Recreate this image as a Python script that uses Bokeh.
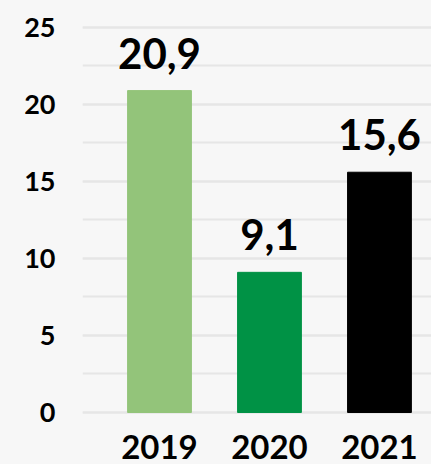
from bokeh.plotting import figure
from bokeh.models import Range1d, SingleIntervalTicker, FixedTicker, ColumnDataSource
from bokeh.core.properties import value
from bokeh.embed import file_html
from bokeh.resources import INLINE

years = ["2019", "2020", "2021"]
values = [20.9, 9.1, 15.6]
value_labels = ["20,9", "9,1", "15,6"]
colors = ["#93C47A", "#009245", "#000000"]

BG = "#f7f7f7"
FONT = "Lato"

idx = list(range(len(years)))
src = ColumnDataSource(dict(x=idx, top=values, lab=value_labels, color=colors))

p = figure(width=431, height=464, output_backend="svg", toolbar_location=None,
           x_range=Range1d(-0.7, 2.473), y_range=Range1d(-0.13, 26.75),
           min_border_left=82, min_border_right=0, min_border_top=0, min_border_bottom=50)
p.background_fill_color = BG
p.border_fill_color = BG
p.outline_line_color = None

p.vbar(x="x", top="top", width=0.58, bottom=0, color="color", source=src)
p.text(x="x", y="top", text="lab", source=src, text_align="center", text_baseline="bottom",
       y_offset=-22, text_font=value(FONT), text_font_style="bold", text_font_size="42px",
       text_color="#000000")

p.yaxis.ticker = SingleIntervalTicker(interval=5, num_minor_ticks=2)
p.xaxis.ticker = FixedTicker(ticks=idx)
p.xaxis.major_label_overrides = {i: y for i, y in zip(idx, years)}

for ax in (p.xaxis, p.yaxis):
    ax.axis_line_color = None
    ax.major_tick_line_color = None
    ax.minor_tick_line_color = None
    ax.major_label_text_font = FONT
    ax.major_label_text_font_style = "bold"
    ax.major_label_text_color = "#000000"

p.yaxis.major_label_text_font_size = "27px"
p.yaxis.major_label_standoff = 21
p.xaxis.major_label_text_font_size = "33px"
p.xaxis.major_label_standoff = 14

p.xgrid.grid_line_color = None
p.ygrid.grid_line_color = "#e6e6e6"
p.ygrid.grid_line_width = 2
p.ygrid.minor_grid_line_color = "#e6e6e6"
p.ygrid.minor_grid_line_width = 2

html = file_html(p, INLINE)
html = html.replace("</head>", "<style>body{background:%s;}</style></head>" % BG, 1)
open("out.html", "w").write(html)
